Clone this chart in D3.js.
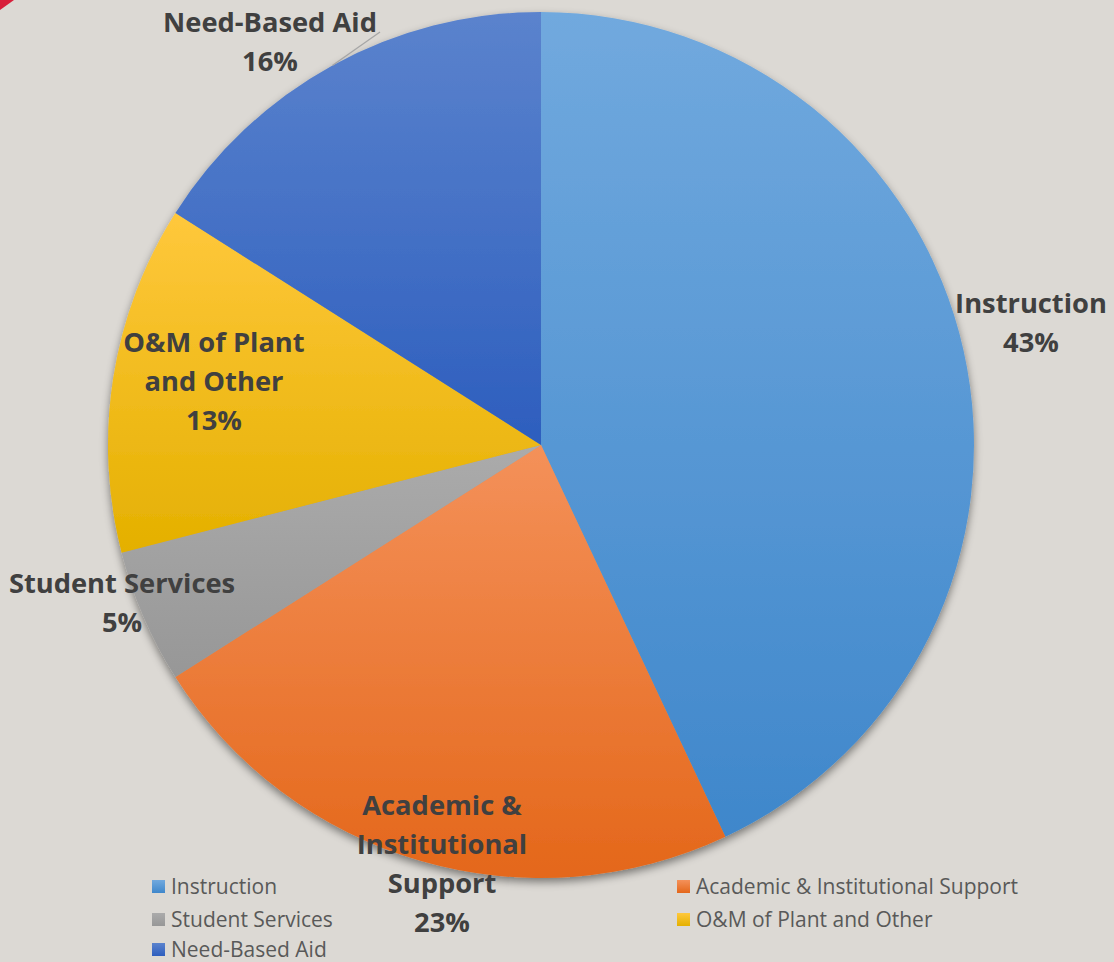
<!DOCTYPE html>
<html>
<head>
<meta charset="utf-8">
<script src="https://cdn.jsdelivr.net/npm/d3@7"></script>
<style>
  html, body { margin: 0; padding: 0; background: #dcd9d4; }
  svg { display: block; font-family: "Open Sans", sans-serif; }
</style>
</head>
<body>
<script>
"use strict";

// Width and height
let w = 1114;
let h = 962;

// data
let categories = ["Instruction", "Academic & Institutional Support", "Student Services", "O&M of Plant and Other", "Need-Based Aid"];
let values = [43, 23, 5, 13, 16];
let labelLines = [
    ["Instruction"],
    ["Academic &", "Institutional", "Support"],
    ["Student Services"],
    ["O&M of Plant", "and Other"],
    ["Need-Based Aid"]
];
let colorsTop = ["#71a9de", "#f4915a", "#ababab", "#ffc83c", "#5b83cd"];
let colorsBottom = ["#3f87cb", "#e4671a", "#979797", "#e4b000", "#2d5ebe"];

let cx = 541, cy = 445, r = 433;

let svg = d3.select("body").append("svg")
    .attr("width", w)
    .attr("height", h);

// red corner
svg.append("path")
    .attr("d", "M0,0 L14,0 L0,10 Z")
    .attr("fill", "#d81e3a");

let defs = svg.append("defs");

let shadow = defs.append("filter")
    .attr("id", "shadow")
    .attr("x", "-10%").attr("y", "-10%")
    .attr("width", "120%").attr("height", "120%");
shadow.append("feDropShadow")
    .attr("dx", 0).attr("dy", 4)
    .attr("stdDeviation", 4)
    .attr("flood-color", "#000")
    .attr("flood-opacity", 0.45);

categories.forEach((c, i) => {
    let g = defs.append("linearGradient")
        .attr("id", "grad" + i)
        .attr("x1", 0).attr("y1", 0).attr("x2", 0).attr("y2", 1);
    g.append("stop").attr("offset", "0%").attr("stop-color", colorsTop[i]);
    g.append("stop").attr("offset", "100%").attr("stop-color", colorsBottom[i]);
});

let data = categories.map((c, i) => ({name: c, value: values[i], i: i}));

let pie = d3.pie()
    .sort(null)
    .value(d => d.value);

let arc = d3.arc()
    .innerRadius(0)
    .outerRadius(r);

let arcs = pie(data);

let pieG = svg.append("g")
    .attr("transform", `translate(${cx},${cy})`)
    .attr("filter", "url(#shadow)");

pieG.selectAll("path")
    .data(arcs)
    .enter().append("path")
    .attr("d", arc)
    .attr("fill", d => `url(#grad${d.data.i})`);

// data labels (first baseline, relative to the pie centre)
let labelPos = [
    [490, -132],
    [-99, 370],
    [-419, 148],
    [-327, -93],
    [-271, -413]
];
let lineH = 39;

let labelG = svg.append("g")
    .attr("transform", `translate(${cx},${cy})`);

// leader line for Need-Based Aid, ending on the slice edge at its mid angle
let nb = arcs[4];
let nbMid = (nb.startAngle + nb.endAngle) / 2;
labelG.append("line")
    .attr("x1", -161).attr("y1", -413)
    .attr("x2", Math.sin(nbMid) * r).attr("y2", -Math.cos(nbMid) * r)
    .attr("stroke", "#a6a6a6")
    .attr("stroke-width", 1.3);

arcs.forEach((a, i) => {
    let lines = labelLines[i].concat([Math.round(values[i]) + "%"]);
    let t = labelG.append("text")
        .attr("text-anchor", "middle")
        .attr("font-size", 27.3)
        .attr("font-weight", "bold")
        .attr("fill", "#404040");
    lines.forEach((l, k) => {
        t.append("tspan")
            .attr("x", labelPos[i][0])
            .attr("y", labelPos[i][1] + k * lineH)
            .text(l);
    });
});

// legend
let legendCols = [152, 677];
let legendRows = [887, 920, 950];
let legend = svg.append("g");
data.forEach((d, i) => {
    let lx = legendCols[i % 2];
    let ly = legendRows[Math.floor(i / 2)];
    legend.append("rect")
        .attr("x", lx).attr("y", ly - 7)
        .attr("width", 13).attr("height", 13)
        .attr("fill", `url(#grad${i})`);
    legend.append("text")
        .attr("x", lx + 19).attr("y", ly + 7)
        .attr("font-size", 21)
        .attr("fill", "#595959")
        .text(d.name);
});
</script>
</body>
</html>
